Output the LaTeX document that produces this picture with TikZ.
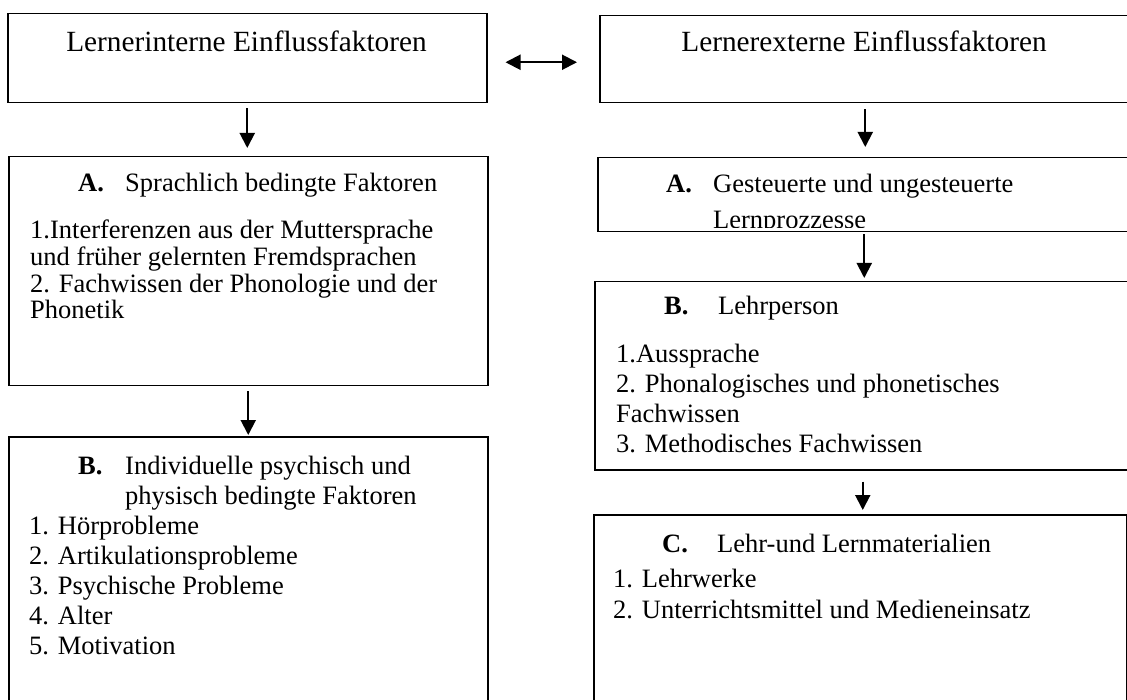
\documentclass[tikz,border=0pt]{standalone}
\usepackage{fontspec}
\setmainfont{Liberation Serif}
\usetikzlibrary{arrows.meta}

\begin{document}
\begin{tikzpicture}[x=1pt,y=-1pt]
    \tikzset{KastenStil/.style = {draw,line width=1.5pt,rectangle,inner sep=0pt,anchor=north west}}
    \tikzset{PfeilStil/.style = {line width=2pt,-{Triangle[length=15pt,width=15pt]}}}
    \tikzset{TitelText/.style = {font=\fontsize{29.3}{29.3}\selectfont,inner sep=0pt,anchor=base}}
    \tikzset{KopfText/.style = {font=\fontsize{26.5}{30}\selectfont,inner sep=0pt,anchor=base west}}
    \tikzset{ListeText/.style = {font=\fontsize{26.5}{#1}\selectfont,align=left,inner sep=0pt,anchor=north west}}

    \useasboundingbox (0,0) rectangle (1127,700);

    % linke Spalte
    \node[KastenStil,minimum width=479pt,minimum height=89pt]  (Intern)  at (7,13)  {};
    \node[KastenStil,minimum width=479pt,minimum height=229pt] (SprachA) at (8,156) {};
    \node[KastenStil,minimum width=479pt,minimum height=280pt] (IndivB)  at (8,436) {};

    % rechte Spalte
    \node[KastenStil,minimum width=531pt,minimum height=87pt]  (Extern)     at (599,15)  {};
    \node[KastenStil,minimum width=533pt,minimum height=74pt]  (GesteuertA) at (597,157) {};
    \node[KastenStil,minimum width=536pt,minimum height=188pt] (LehrB)      at (594,281) {};
    \node[KastenStil,minimum width=533pt,minimum height=200pt] (MaterialC)  at (593,514) {};

    % Titel
    \node[TitelText] (InternTitel) at (246.5,52) {Lernerinterne Einflussfaktoren};
    \node[TitelText] (ExternTitel) at (864,52)   {Lernerexterne Einflussfaktoren};

    % Inhalt links
    \node[KopfText] (SprachKopf) at (78,192) {\makebox[47pt][l]{\textbf{A.}}Sprachlich bedingte Faktoren};
    \node[ListeText=26.5] (SprachListe) at (30,219.5) {\strut 1.Interferenzen aus der Muttersprache\\
        und früher gelernten Fremdsprachen\\
        2. Fachwissen der Phonologie und der\\
        Phonetik};
    \node[ListeText=30] (IndivListe) at (29,453) {\strut\hspace*{49pt}\makebox[47pt][l]{\textbf{B.}}Individuelle psychisch und\\
        \hspace*{96pt}physisch bedingte Faktoren\\
        1. Hörprobleme\\
        2. Artikulationsprobleme\\
        3. Psychische Probleme\\
        4. Alter\\
        5. Motivation};

    % Inhalt rechts
    \begin{scope}
        \clip (GesteuertA.north west) rectangle ([yshift=5pt]GesteuertA.south east);
        \node[ListeText=30] (GesteuertText) at (666,171) {\strut\makebox[47pt][l]{\textbf{A.}}Gesteuerte und ungesteuerte\\[6pt]
            \hspace*{47pt}Lernprozzesse};
    \end{scope}
    \node[KopfText] (LehrKopf) at (664,315) {\makebox[54pt][l]{\textbf{B.}}Lehrperson};
    \node[ListeText=30] (LehrListe) at (616,341) {\strut 1.Aussprache\\
        2. Phonalogisches und phonetisches\\
        Fachwissen\\
        3. Methodisches Fachwissen};
    \node[KopfText] (MaterialKopf) at (662,552) {\makebox[55pt][l]{\textbf{C.}}Lehr-und Lernmaterialien};
    \node[ListeText=31] (MaterialListe) at (613,566) {\strut 1. Lehrwerke\\
        2. Unterrichtsmittel und Medieneinsatz};

    % Pfeile
    \draw[line width=2pt,{Triangle[length=15pt,width=15pt]}-{Triangle[length=15pt,width=15pt]},shorten <=18pt,shorten >=22pt]
        ([yshift=-4pt]Intern.east) -- ([yshift=-4pt]Intern.east -| Extern.west);
    \draw[PfeilStil,shorten <=5pt,shorten >=8pt]  (Intern.south)  -- (Intern.south |- SprachA.north);
    \draw[PfeilStil,shorten <=5pt,shorten >=1pt]  (SprachA.south) -- (SprachA.south |- IndivB.north);
    \draw[PfeilStil,shorten <=6pt,shorten >=10pt] (Extern.south)  -- (Extern.south |- GesteuertA.north);
    \draw[PfeilStil,shorten <=2pt,shorten >=3pt]  (GesteuertA.south) -- (GesteuertA.south |- LehrB.north);
    \draw[PfeilStil,shorten <=11pt,shorten >=4pt] (LehrB.south)   -- (LehrB.south |- MaterialC.north);
\end{tikzpicture}
\end{document}
